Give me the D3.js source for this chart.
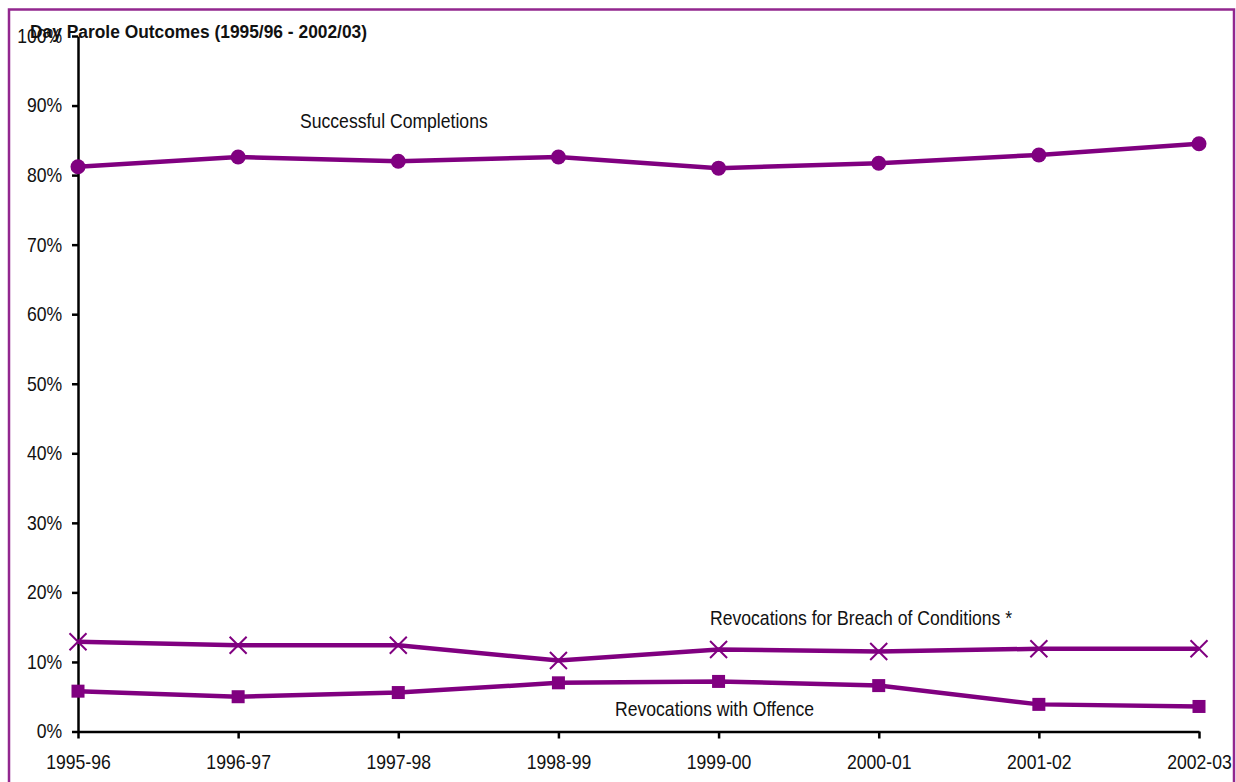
<!DOCTYPE html>
<html><head><meta charset="utf-8">
<script src="https://cdn.jsdelivr.net/npm/d3@7"></script>
<style>
html,body{margin:0;padding:0;background:#fff;}
svg text{font-family:"Liberation Sans",Arial,sans-serif;}
</style></head><body>
<svg id="chart" width="1236" height="782"></svg>
<script>
const categories = ["1995-96","1996-97","1997-98","1998-99","1999-00","2000-01","2001-02","2002-03"];
const successful = [81.2, 82.6, 82.0, 82.6, 81.0, 81.7, 82.9, 84.5];
const breach = [12.9, 12.4, 12.4, 10.2, 11.8, 11.5, 11.9, 11.9];
const offence = [5.8, 5.0, 5.6, 7.0, 7.2, 6.6, 3.9, 3.6];
const yTicks = [0,10,20,30,40,50,60,70,80,90,100];
const title = "Day Parole Outcomes (1995/96 - 2002/03)";
const seriesLabels = ["Successful Completions","Revocations for Breach of Conditions *","Revocations with Offence"];

const color = "#800080";
const sx = 0.88;
const svg = d3.select("#chart");

// frame
svg.append("rect").attr("x",9).attr("y",9.5).attr("width",1225).attr("height",790)
  .attr("fill","none").attr("stroke","#92278f").attr("stroke-width",2.5);

const x = d3.scalePoint().domain(categories).range([78,1199]);
const y = d3.scaleLinear().domain([0,100]).range([731.5,36]);

// y axis
const yAxis = svg.append("g").attr("transform","translate(78,0)")
  .call(d3.axisLeft(y).tickValues(yTicks).tickFormat(d=>d+"%").tickSizeInner(6).tickSizeOuter(0).tickPadding(12));
yAxis.select(".domain").attr("stroke","#000").attr("stroke-width",2.5);
yAxis.selectAll(".tick line").attr("stroke","#000").attr("stroke-width",2.5);
yAxis.selectAll("text").attr("font-size",20).attr("fill","#111").attr("font-family",null)
  .attr("transform",`scale(${sx},1)`);

// x axis
const xAxis = svg.append("g").attr("transform","translate(0,731.5)")
  .call(d3.axisBottom(x).tickSizeInner(7).tickSizeOuter(0).tickPadding(16));
xAxis.select(".domain").attr("stroke","#000").attr("stroke-width",2.5);
xAxis.selectAll(".tick line").attr("stroke","#000").attr("stroke-width",2.5);
xAxis.selectAll("text").attr("font-size",20).attr("fill","#111").attr("font-family",null)
  .attr("transform",`scale(${sx},1)`);

const line = d3.line().x((d,i)=>x(categories[i])).y(d=>y(d));
[successful, breach, offence].forEach(s=>{
  svg.append("path").datum(s).attr("d",line).attr("fill","none")
    .attr("stroke",color).attr("stroke-width",4.5);
});

// circles
svg.selectAll(".c").data(successful).enter().append("circle")
  .attr("cx",(d,i)=>x(categories[i])).attr("cy",d=>y(d)).attr("r",7.5).attr("fill",color);
// squares
svg.selectAll(".s").data(offence).enter().append("rect")
  .attr("x",(d,i)=>x(categories[i])-6.5).attr("y",d=>y(d)-6.5).attr("width",13).attr("height",13).attr("fill",color);
// crosses
const cr = 8.5;
svg.selectAll(".x").data(breach).enter().append("path")
  .attr("d",(d,i)=>{const cx=x(categories[i]), cy=y(d);
    return `M${cx-cr},${cy-cr}L${cx+cr},${cy+cr}M${cx-cr},${cy+cr}L${cx+cr},${cy-cr}`;})
  .attr("stroke",color).attr("stroke-width",2).attr("fill","none");

function label(tx, ty, txt, size, scale, bold){
  svg.append("text").attr("transform",`translate(${tx},${ty}) scale(${scale},1)`)
    .attr("font-size",size).attr("font-weight",bold?"bold":"normal").attr("fill","#111").text(txt);
}
label(300,128,seriesLabels[0],20,sx,false);
label(710,625,seriesLabels[1],20,sx,false);
label(615,716,seriesLabels[2],20,sx,false);
label(30,38,title,18.5,0.94,true);
</script>
</body></html>
